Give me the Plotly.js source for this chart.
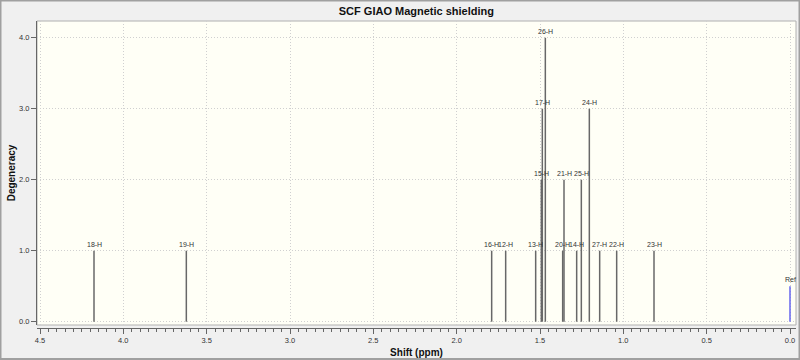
<!DOCTYPE html>
<html>
<head>
<meta charset="utf-8">
<script src="https://cdn.plot.ly/plotly-3.0.1.min.js"></script>
<style>html,body{margin:0;padding:0;background:#F0F0F0;}#chart{width:800px;height:360px;}</style>
</head>
<body>
<div id="chart"></div>
<script>
const peakLabels = ['18-H','19-H','16-H','12-H','13-H','15-H','17-H','26-H','20-H','21-H','14-H','25-H','24-H','27-H','22-H','23-H'];
const shifts = [4.176,3.622,1.790,1.706,1.526,1.492,1.486,1.468,1.364,1.356,1.280,1.252,1.204,1.142,1.040,0.816];
const degeneracy = [1,1,1,1,1,2,3,4,1,2,1,2,3,1,1,1];
const refLabel = 'Ref';
const refShift = [0.0];
const refDegeneracy = [0.5];
const yTickVals = [0,1,2,3,4];
const xTickVals = [4.5,4.0,3.5,3.0,2.5,2.0,1.5,1.0,0.5,0.0];

function stickXY(xs, ys) {
  const x = [], y = [];
  xs.forEach((v, i) => { x.push(v, v, null); y.push(0, ys[i], null); });
  return {x, y};
}
const sticks = stickXY(shifts, degeneracy);
const refSticks = stickXY(refShift, refDegeneracy);

const FONT = 'Liberation Sans, Arial, sans-serif';

const traces = [
  {x: sticks.x, y: sticks.y, type: 'scatter', mode: 'lines',
   line: {color: '#686868', width: 1.5}, hoverinfo: 'skip', showlegend: false},
  {x: refSticks.x, y: refSticks.y, type: 'scatter', mode: 'lines',
   line: {color: '#6666EE', width: 1.5}, hoverinfo: 'skip', showlegend: false}
];

const annotations = peakLabels.map((t, i) => ({
  x: shifts[i], y: degeneracy[i], xref: 'x', yref: 'y', text: t, showarrow: false,
  yanchor: 'bottom', xanchor: 'center', yshift: 2, borderpad: 0,
  font: {family: FONT, size: 7, color: '#333333'}
}));
annotations.push({
  x: refShift[0], y: refDegeneracy[0], xref: 'x', yref: 'y', text: refLabel, showarrow: false,
  yanchor: 'bottom', xanchor: 'center', yshift: 2, borderpad: 0,
  font: {family: FONT, size: 7, color: '#333333'}
});

const W = 759, H = 307;
const layout = {
  width: 800, height: 360,
  margin: {l: 37, r: 4, t: 21, b: 32, pad: 0},
  paper_bgcolor: '#F0F0F0',
  plot_bgcolor: 'rgba(0,0,0,0)',
  showlegend: false,
  title: {text: 'SCF GIAO Magnetic shielding', x: 0.5205, xanchor: 'center', y: 0.969, yanchor: 'middle',
          font: {family: FONT, size: 11, color: '#111111', weight: 'bold'}},
  xaxis: {
    range: [4.518, -0.036], anchor: 'free', position: 0,
    tickvals: xTickVals, tickformat: '.1f',
    ticks: 'outside', ticklen: 5, tickcolor: '#666666', tickwidth: 1,
    showline: true, linecolor: '#666666', linewidth: 1,
    showgrid: true, gridcolor: '#D0D0D0', griddash: '1px,2px', gridwidth: 1,
    zeroline: false,
    minor: {dtick: 0.05, tick0: 0, ticks: 'outside', ticklen: 3, tickcolor: '#666666', showgrid: false},
    tickfont: {family: FONT, size: 7.5, color: '#333333'},
    title: {text: 'Shift (ppm)', standoff: 4, font: {family: FONT, size: 10, color: '#111111', weight: 'bold'}}
  },
  yaxis: {
    range: [-0.0465, 4.235], domain: [3 / H, 1],
    tickvals: yTickVals, tickformat: '.1f',
    ticks: 'outside', ticklen: 5, tickcolor: '#666666', tickwidth: 1,
    showline: true, linecolor: '#666666', linewidth: 1,
    showgrid: true, gridcolor: '#D0D0D0', griddash: '1px,2px', gridwidth: 1,
    zeroline: false,
    tickfont: {family: FONT, size: 7.5, color: '#333333'},
    title: {text: 'Degeneracy', standoff: 1, font: {family: FONT, size: 10, color: '#111111', weight: 'bold'}}
  },
  shapes: [
    {type: 'rect', xref: 'x domain', yref: 'y domain', x0: 0, x1: 1, y0: 0, y1: 1,
     fillcolor: '#FFFFF6', line: {color: '#B0B0B0', width: 1}, layer: 'below'},
    {type: 'rect', xref: 'paper', yref: 'paper',
     x0: -36.5 / W, x1: 1 + 3.5 / W, y0: -31 / H, y1: 1 + 20.5 / H,
     fillcolor: 'rgba(0,0,0,0)', line: {color: '#A0A0A0', width: 2}, layer: 'below'}
  ],
  annotations: annotations
};

Plotly.newPlot('chart', traces, layout, {displayModeBar: false, staticPlot: true});
</script>
</body>
</html>
